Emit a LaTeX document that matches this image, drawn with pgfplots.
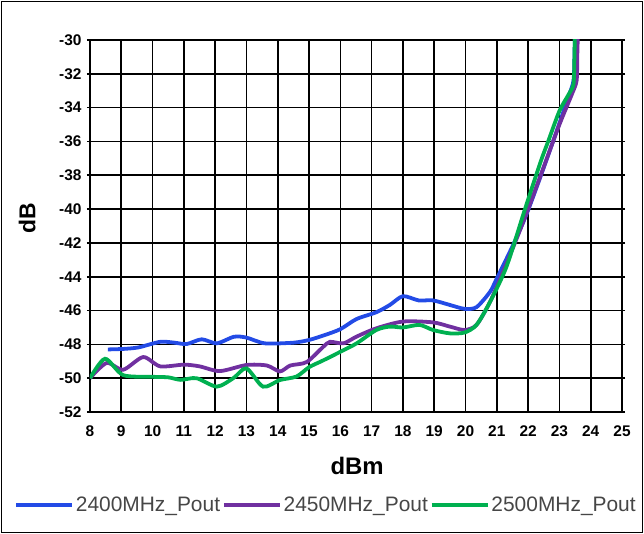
\documentclass[border=0pt]{standalone}
\usepackage{pgfplots}
\pgfplotsset{compat=1.18}
\usepackage{fontspec}
\setmainfont{Liberation Sans}
\definecolor{cblue}{RGB}{35,75,230}
\definecolor{cpurple}{RGB}{112,48,160}
\definecolor{cgreen}{RGB}{0,176,80}
\definecolor{ltext}{RGB}{70,70,70}
\begin{document}
\begin{tikzpicture}
\useasboundingbox (0,0) rectangle (644bp,534bp);
\draw[line width=1.2pt] (1.5bp,1.5bp) rectangle (642.5bp,532.5bp);
\begin{axis}[
  at={(90bp,122bp)}, anchor=south west,
  width=532bp, height=372bp, scale only axis,
  xmin=8, xmax=25, ymin=-52, ymax=-30,
  xtick={8,...,25}, ytick={-52,-50,...,-30},
  grid=major,
  grid style={black, line width=1.6pt},
  axis line style={black, line width=1.6pt},
  tick style={black, line width=1.6pt},
  tick align=outside, major tick length=3bp,
  xtick style={draw=none},
  /pgf/number format/assume math mode=true,
  ticklabel style={font=\bfseries\fontsize{15.5}{15.5}\selectfont},
  xticklabel style={yshift=-7bp},
  yticklabel style={xshift=-2bp},
  xlabel={dBm}, ylabel={dB},
  xlabel style={font=\bfseries\fontsize{24}{24}\selectfont, at={(axis description cs:0.502,-0.145)}, anchor=center},
  ylabel style={font=\bfseries\fontsize{23}{23}\selectfont, at={(axis description cs:-0.118,0.52)}, anchor=center},
  legend columns=3,
  legend style={at={(axis description cs:0.4436,-0.25)}, anchor=center, draw=none, fill=none,
    font=\fontsize{21}{21}\selectfont, text=ltext,
    nodes={inner xsep=2bp},
    /tikz/every even column/.append style={column sep=0pt}},
  legend image code/.code={\draw[#1, line width=3.6pt] (0bp,0bp) -- (56bp,0bp);},
  every axis plot/.append style={line width=3.8pt, smooth, tension=0.45, no markers},
]
\addplot[cblue] coordinates {
(8.57,-48.3) (9.06,-48.27) (9.55,-48.18) (10.24,-47.85) (10.7,-47.9) (11.09,-47.98) (11.57,-47.7) (12.05,-47.94) (12.6,-47.55) (13.0,-47.6) (13.59,-47.94) (14.5,-47.9) (15.0,-47.74) (15.5,-47.45) (16,-47.1) (16.52,-46.5) (17.15,-46.1) (17.58,-45.67) (18.0,-45.15) (18.5,-45.4) (18.96,-45.4) (19.5,-45.67) (19.97,-45.9) (20.35,-45.8) (20.78,-44.9) (21.0,-44.1) (21.5,-42.2) (21.95,-40.3) (22.45,-37.8) (22.91,-35.4) (23.3,-33.3) (23.45,-32.4) (23.48,-31) (23.5,-29)
};
\addlegendentry{2400MHz\_Pout}
\addplot[cpurple] coordinates {
(8,-50) (8.53,-49.1) (9.06,-49.5) (9.7,-48.75) (10.24,-49.3) (11,-49.2) (11.5,-49.3) (12.15,-49.58) (13,-49.22) (13.65,-49.25) (14.07,-49.6) (14.4,-49.25) (14.92,-49.05) (15.45,-48.15) (15.67,-47.85) (16.1,-47.94) (16.52,-47.54) (17.15,-47.05) (18.0,-46.65) (18.96,-46.7) (19.5,-46.95) (19.97,-47.15) (20.35,-46.85) (20.78,-45.5) (21.2,-43.7) (21.6,-41.9) (22.0,-40) (22.5,-37.5) (23.0,-35.0) (23.4,-33.2) (23.55,-32.4) (23.57,-31) (23.6,-29)
};
\addlegendentry{2450MHz\_Pout}
\addplot[cgreen] coordinates {
(8,-50) (8.48,-48.85) (9.06,-49.82) (10.02,-49.92) (10.5,-49.95) (10.9,-50.1) (11.4,-50.0) (12.05,-50.5) (12.58,-50.0) (13,-49.42) (13.53,-50.5) (14.07,-50.11) (14.6,-49.9) (15.0,-49.35) (15.45,-48.95) (16,-48.44) (16.52,-47.94) (17.15,-47.15) (17.58,-46.95) (18,-47.0) (18.53,-46.85) (18.96,-47.15) (19.5,-47.35) (19.97,-47.3) (20.35,-46.85) (20.78,-45.5) (21.31,-43.4) (21.9,-40) (22.4,-37.2) (22.64,-36) (23.0,-34.2) (23.3,-33.2) (23.45,-32.6) (23.48,-31) (23.5,-29)
};
\addlegendentry{2500MHz\_Pout}
\end{axis}
\end{tikzpicture}
\end{document}
